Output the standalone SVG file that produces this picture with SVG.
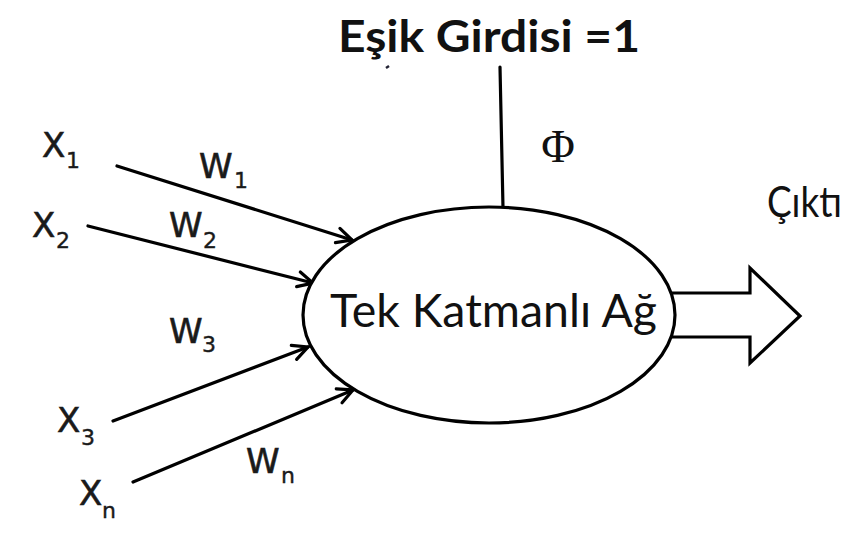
<svg xmlns="http://www.w3.org/2000/svg" width="854" height="555" viewBox="0 0 854 555">
  <style>
    .lbl { font-family: "DejaVu Sans", "Liberation Sans", sans-serif; font-size: 34px; fill: #1a1a1a; stroke: #1a1a1a; stroke-width: 0.6; }
    .sub { font-family: "DejaVu Sans", "Liberation Sans", sans-serif; font-size: 22px; fill: #1a1a1a; stroke: #1a1a1a; stroke-width: 0.4; }
    .cal { font-family: Lato, "Open Sans", "Liberation Sans", sans-serif; fill: #111; }
    .conn { stroke: #000; stroke-width: 3.2; fill: none; stroke-linecap: round; }
    .shape { stroke: #000; stroke-width: 3.2; fill: #fff; }
  </style>
  <defs>
    <marker id="open" markerUnits="userSpaceOnUse" markerWidth="22" markerHeight="22" viewBox="0 0 22 22" refX="19" refY="11" orient="auto">
      <path d="M4,3.5 L19,11 L4,18.5" fill="none" stroke="#000" stroke-width="3.2" stroke-linejoin="miter" stroke-linecap="round"/>
    </marker>
  </defs>
  <rect width="854" height="555" fill="#fff"/>

  <g id="title">
    <text class="cal" x="338" y="52" font-size="44" font-weight="bold" textLength="302" lengthAdjust="spacingAndGlyphs">Eşik Girdisi =1</text>
    <path d="M386,68 L389,66" stroke="#223" stroke-width="2.5" fill="none"/>
  </g>

  <g id="connectors">
    <line class="conn" x1="117" y1="166" x2="352" y2="240" marker-end="url(#open)"/>
    <line class="conn" x1="88" y1="226" x2="313" y2="283" marker-end="url(#open)"/>
    <line class="conn" x1="113" y1="421" x2="308" y2="347" marker-end="url(#open)"/>
    <line class="conn" x1="133" y1="482" x2="353" y2="390" marker-end="url(#open)"/>
    <line class="conn" x1="500" y1="67" x2="503" y2="208"/>
    <path id="output-arrow" class="shape" stroke-linejoin="miter" d="M660,293 H750 V268 L800,316 L750,363 V337 H660"/>
  </g>

  <g id="node-network">
    <ellipse class="shape" cx="489" cy="315" rx="186" ry="108"/>
    <text class="cal" x="330" y="327" font-size="46" textLength="327" lengthAdjust="spacingAndGlyphs">Tek Katmanlı Ağ</text>
  </g>

  <g id="phi">
    <text x="558" y="162" font-family="'Liberation Serif', 'DejaVu Serif', serif" font-size="46" text-anchor="middle" fill="#111">Φ</text>
  </g>

  <g id="output-label">
    <text class="cal" x="767" y="217" font-size="43" textLength="75" lengthAdjust="spacingAndGlyphs">Çıktı</text>
  </g>

  <g id="x1"><text class="lbl" x="42" y="157">X</text><text class="sub" x="66" y="168">1</text></g>
  <g id="x2"><text class="lbl" x="32" y="237">X</text><text class="sub" x="56" y="248">2</text></g>
  <g id="x3"><text class="lbl" x="57" y="432">X</text><text class="sub" x="81" y="445">3</text></g>
  <g id="xn"><text class="lbl" x="79" y="505">X</text><text class="sub" x="102" y="518">n</text></g>

  <g id="w1"><text class="lbl" x="199" y="178">W</text><text class="sub" x="234" y="188">1</text></g>
  <g id="w2"><text class="lbl" x="169" y="237">W</text><text class="sub" x="203" y="248">2</text></g>
  <g id="w3"><text class="lbl" x="169" y="343">W</text><text class="sub" x="202" y="352">3</text></g>
  <g id="wn"><text class="lbl" x="246" y="473">W</text><text class="sub" x="281" y="483">n</text></g>
</svg>
